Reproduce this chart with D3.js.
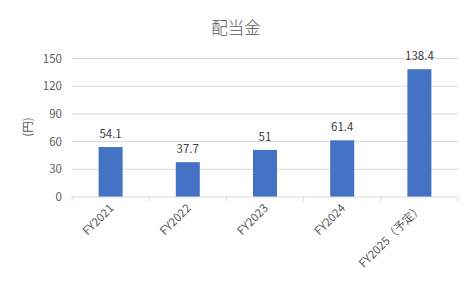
<!DOCTYPE html>
<html>
<head>
<meta charset="utf-8">
<script src="https://cdn.jsdelivr.net/npm/d3@7"></script>
<style>
  body { margin: 0; background: #fff; }
  text { font-family: "Noto Sans CJK JP", "Noto Sans", sans-serif; }
</style>
</head>
<body>
<div class="container"></div>
<script>
var categories = ["FY2021", "FY2022", "FY2023", "FY2024", "FY2025（予定）"];
var values = [54.1, 37.7, 51, 61.4, 138.4];
var yTicks = [0, 30, 60, 90, 120, 150];

var w = 473, h = 285;
var plotLeft = 72, plotRight = 458, plotTop = 58.5, plotBottom = 197;

var svg = d3.select(".container").append("svg").attr("width", w).attr("height", h);

var x = d3.scaleBand().domain(categories).range([plotLeft, plotRight]).paddingInner(0).paddingOuter(0);
var y = d3.scaleLinear().domain([0, 150]).range([plotBottom, plotTop]);

// gridlines
svg.append("g").selectAll("line").data(yTicks.slice(1)).enter().append("line")
  .attr("x1", plotLeft).attr("x2", plotRight)
  .attr("y1", function(d){ return y(d); }).attr("y2", function(d){ return y(d); })
  .attr("stroke", "#d9d9d9").attr("stroke-width", 1);

// y labels
svg.append("g").selectAll("text").data(yTicks).enter().append("text")
  .attr("x", 62).attr("y", function(d){ return y(d); })
  .attr("dy", "0.35em").attr("text-anchor", "end")
  .attr("font-size", 11.5).attr("fill", "#595959")
  .text(function(d){ return d; });

// bars
var bw = 24;
svg.append("g").selectAll("rect").data(values).enter().append("rect")
  .attr("x", function(d, i){ return x(categories[i]) + x.bandwidth()/2 - bw/2; })
  .attr("y", function(d){ return y(d); })
  .attr("width", bw)
  .attr("height", function(d){ return y(0) - y(d); })
  .attr("fill", "#4472c4");

// x axis line + ticks
svg.append("line").attr("x1", plotLeft).attr("x2", plotRight).attr("y1", plotBottom).attr("y2", plotBottom)
  .attr("stroke", "#d9d9d9");
svg.append("g").selectAll("line").data(d3.range(categories.length + 1)).enter().append("line")
  .attr("x1", function(i){ return plotLeft + i * x.step(); })
  .attr("x2", function(i){ return plotLeft + i * x.step(); })
  .attr("y1", plotBottom).attr("y2", plotBottom + 4)
  .attr("stroke", "#d9d9d9");

// data labels
svg.append("g").selectAll("text").data(values).enter().append("text")
  .attr("x", function(d, i){ return x(categories[i]) + x.bandwidth()/2; })
  .attr("y", function(d){ return y(d) - 9; })
  .attr("text-anchor", "middle")
  .attr("font-size", 11.5).attr("fill", "#404040")
  .text(function(d){ return d; });

// x labels
svg.append("g").selectAll("text").data(categories).enter().append("text")
  .attr("transform", function(d){
    return "translate(" + (x(d) + x.bandwidth()/2 + 1) + "," + (plotBottom + 9) + ") rotate(-45)";
  })
  .attr("text-anchor", "end").attr("dy", "0.35em")
  .attr("font-size", 11.5).attr("fill", "#595959")
  .text(function(d){ return d; });

// title
svg.append("text").attr("x", 236).attr("y", 34).attr("text-anchor", "middle")
  .attr("font-size", 16.5).attr("font-weight", 300).attr("fill", "#595959").text("配当金");

// y axis title
svg.append("text").attr("transform", "translate(28,127) rotate(-90)")
  .attr("text-anchor", "middle").attr("dy", "0.35em")
  .attr("font-size", 11.5).attr("fill", "#595959").text("(円)");
</script>
</body>
</html>
